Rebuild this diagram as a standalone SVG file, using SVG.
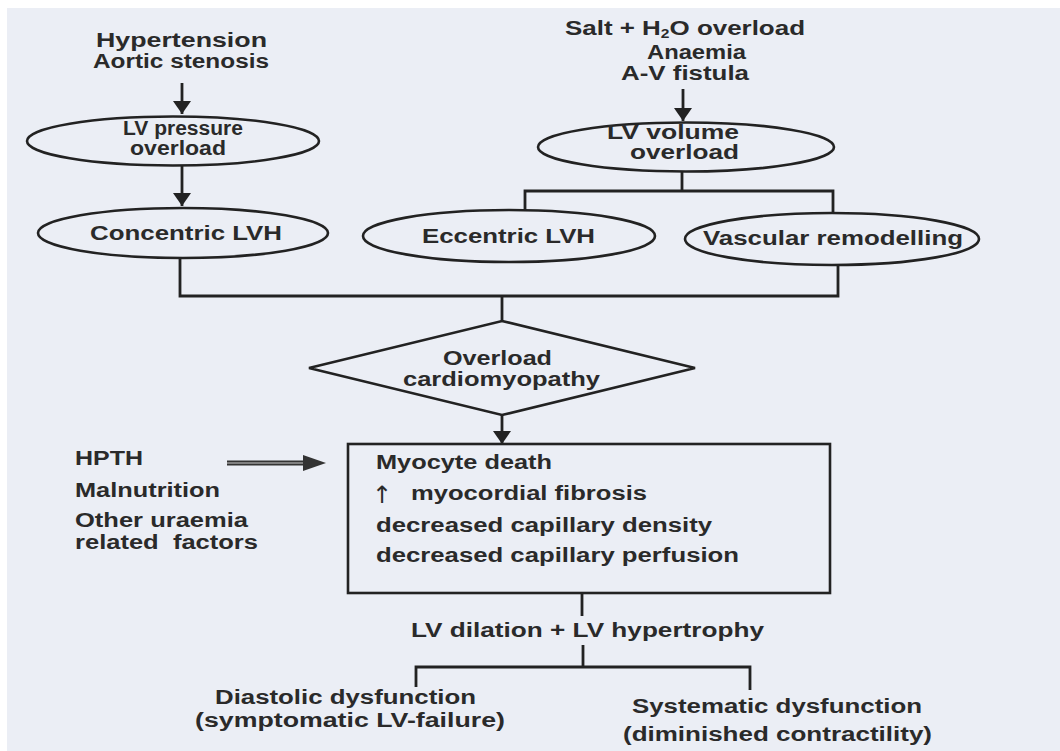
<svg xmlns="http://www.w3.org/2000/svg" width="1060" height="751" viewBox="0 0 1060 751">
<style>
.t{font-family:"Liberation Sans",Arial,"DejaVu Sans",sans-serif;font-weight:700;font-size:19.5px;fill:#2a2a2a}
.big{font-size:20px}
.n{fill:none;stroke:#222;stroke-width:2.6}
.c{fill:none;stroke:#222;stroke-width:2.8}
</style>
<defs>
<marker id="ah" markerUnits="userSpaceOnUse" markerWidth="14" markerHeight="20" refX="13" refY="9" orient="auto">
<path d="M0,0 L13,9 L0,18 z" fill="#222"/>
</marker>
</defs>
<rect x="0" y="0" width="1060" height="751" fill="#ebeef5"/>
<rect x="0" y="0" width="1060" height="8" fill="#ffffff"/>
<rect x="0" y="0" width="7" height="751" fill="#ffffff"/>

<g id="connectors">
<line class="c" x1="182" y1="83" x2="182" y2="114" marker-end="url(#ah)"/>
<line class="c" x1="182" y1="166" x2="182" y2="206" marker-end="url(#ah)"/>
<line class="c" x1="683" y1="89" x2="683" y2="121" marker-end="url(#ah)"/>
<polyline class="c" points="682,171 682,191"/>
<polyline class="c" points="525,211 525,191 833,191 833,214"/>
<polyline class="c" points="180,258 180,296 838,296 838,266"/>
<line class="c" x1="502" y1="296" x2="502" y2="321"/>
<line class="c" x1="502" y1="415" x2="502" y2="444" marker-end="url(#ah)"/>
<line x1="227" y1="463" x2="305" y2="463" stroke="#333" stroke-width="5"/>
<line x1="227" y1="463" x2="305" y2="463" stroke="#9a9a9a" stroke-width="1.4"/>
<path d="M303,455 L326,463 L303,471 z" fill="#333"/>
<line class="c" x1="582" y1="593" x2="582" y2="616"/>
<line class="c" x1="583" y1="645" x2="583" y2="667"/>
<polyline class="c" points="416,687 416,667 750,667 750,690"/>
</g>

<g id="src-pressure">
<text class="t big" x="96" y="47" textLength="171" lengthAdjust="spacingAndGlyphs">Hypertension</text>
<text class="t big" x="93" y="68" textLength="176" lengthAdjust="spacingAndGlyphs">Aortic stenosis</text>
</g>
<g id="src-volume">
<text class="t big" x="565" y="35" textLength="240" lengthAdjust="spacingAndGlyphs">Salt + H<tspan font-size="12" dy="3">2</tspan><tspan dy="-3">O overload</tspan></text>
<text class="t big" x="647" y="59" textLength="99" lengthAdjust="spacingAndGlyphs">Anaemia</text>
<text class="t big" x="621" y="80" textLength="128" lengthAdjust="spacingAndGlyphs">A-V fistula</text>
</g>
<g id="lv-pressure">
<ellipse class="n" cx="173" cy="141" rx="146" ry="24.5"/>
<text class="t" x="123" y="135" textLength="120" lengthAdjust="spacingAndGlyphs">LV pressure</text>
<text class="t" x="130" y="155" textLength="96" lengthAdjust="spacingAndGlyphs">overload</text>
</g>
<g id="lv-volume">
<ellipse class="n" cx="686" cy="147" rx="148" ry="24.5"/>
<text class="t" x="607" y="139" textLength="132" lengthAdjust="spacingAndGlyphs">LV volume</text>
<text class="t" x="630" y="159" textLength="109" lengthAdjust="spacingAndGlyphs">overload</text>
</g>
<g id="concentric">
<ellipse class="n" cx="183" cy="233" rx="145" ry="25"/>
<text class="t" x="90" y="240" textLength="192" lengthAdjust="spacingAndGlyphs">Concentric LVH</text>
</g>
<g id="eccentric">
<ellipse class="n" cx="509" cy="236" rx="146" ry="26"/>
<text class="t" x="422" y="243" textLength="173" lengthAdjust="spacingAndGlyphs">Eccentric LVH</text>
</g>
<g id="vascular">
<ellipse class="n" cx="832" cy="239" rx="147" ry="26"/>
<text class="t" x="703" y="245" textLength="260" lengthAdjust="spacingAndGlyphs">Vascular remodelling</text>
</g>
<g id="cardiomyopathy">
<polygon class="n" points="502,321 695,368 502,415 309,368"/>
<text class="t" x="443" y="365" textLength="109" lengthAdjust="spacingAndGlyphs">Overload</text>
<text class="t" x="403" y="386" textLength="197" lengthAdjust="spacingAndGlyphs">cardiomyopathy</text>
</g>
<g id="uraemia-factors">
<text class="t" x="75" y="465" textLength="68" lengthAdjust="spacingAndGlyphs">HPTH</text>
<text class="t" x="75" y="497" textLength="145" lengthAdjust="spacingAndGlyphs">Malnutrition</text>
<text class="t" x="75" y="527" textLength="173" lengthAdjust="spacingAndGlyphs">Other uraemia</text>
<text class="t" x="75" y="549" textLength="183" lengthAdjust="spacingAndGlyphs" xml:space="preserve">related  factors</text>
</g>
<g id="myocyte-box">
<rect class="n" x="348" y="444" width="482" height="149"/>
<text class="t" x="376" y="469" textLength="176" lengthAdjust="spacingAndGlyphs">Myocyte death</text>
<text x="382" y="503" text-anchor="middle" font-family="'DejaVu Sans',sans-serif" font-size="24" fill="#2a2a2a">↑</text>
<text class="t" x="411" y="500" textLength="236" lengthAdjust="spacingAndGlyphs">myocordial fibrosis</text>
<text class="t" x="376" y="532" textLength="336" lengthAdjust="spacingAndGlyphs">decreased capillary density</text>
<text class="t" x="376" y="562" textLength="363" lengthAdjust="spacingAndGlyphs">decreased capillary perfusion</text>
</g>
<g id="lv-dilation">
<text class="t" x="411" y="637" textLength="353" lengthAdjust="spacingAndGlyphs">LV dilation + LV hypertrophy</text>
</g>
<g id="diastolic">
<text class="t" x="215" y="704" textLength="261" lengthAdjust="spacingAndGlyphs">Diastolic dysfunction</text>
<text class="t" x="195" y="727" textLength="310" lengthAdjust="spacingAndGlyphs">(symptomatic LV-failure)</text>
</g>
<g id="systematic">
<text class="t" x="632" y="713" textLength="290" lengthAdjust="spacingAndGlyphs">Systematic dysfunction</text>
<text class="t" x="623" y="741" textLength="309" lengthAdjust="spacingAndGlyphs">(diminished contractility)</text>
</g>
</svg>
